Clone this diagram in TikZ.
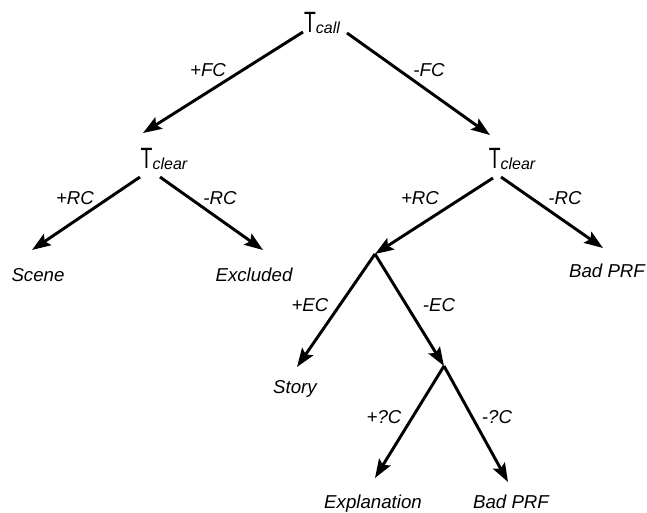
\documentclass[tikz,border=0pt]{standalone}
\usepackage{fontspec}
\setmainfont{Liberation Sans}
\usepackage{graphicx}
\usetikzlibrary{arrows.meta}

\newcommand{\tsub}[1]{{\fontsize{22}{22}\selectfont\scalebox{0.66}[1]{T}}\raisebox{-1pt}{\fontsize{12}{12}\selectfont\itshape #1}}

\begin{document}
\begin{tikzpicture}[x=0.75pt,y=-0.75pt,
	arr/.style={line width=2.2pt,-{Stealth[length=14pt,width=10pt,inset=2.5pt]}},
	lbl/.style={font=\fontsize{14}{16}\selectfont\itshape,inner sep=0pt},
	leaf/.style={lbl,anchor=base},
	tnode/.style={inner sep=0pt,anchor=base}]
	\useasboundingbox (0,0) rectangle (647,512);
	% tests
	\node[tnode] (tcall) at (322,32) {\tsub{call}};
	\node[tnode] (clearL) at (164,168) {\tsub{clear}};
	\node[tnode] (clearR) at (512,168) {\tsub{clear}};
	% outcomes
	\node[leaf] (scene) at (38,281) {Scene};
	\node[leaf] (excl) at (254,281) {Excluded};
	\node[leaf] (badA) at (607,277) {Bad PRF};
	\node[leaf] (story) at (295,393) {Story};
	\node[leaf] (expl) at (373,508) {Explanation};
	\node[leaf] (badB) at (511,508) {Bad PRF};
	\coordinate (j1) at (375,254);
	\coordinate (j2) at (444,366);
	% branch labels
	\foreach \x/\y/\lab/\n in {208/70/+FC/fcP, 429/70/-FC/fcM,
		75/198/+RC/rcPL, 220/198/-RC/rcML, 420/198/+RC/rcPR, 565/198/-RC/rcMR,
		310/305/+EC/ecP, 439/305/-EC/ecM, 384/417/+?C/qcP, 497/417/-?C/qcM}
	\node[lbl] (\n) at (\x,\y) {\lab};
	% branches
	\draw[arr] ([shift={(-19,0)}]tcall.base) -- ([shift={(-21,-35)}]clearL.base);
	\draw[arr] ([shift={(25,1)}]tcall.base) -- ([shift={(-22,-33)}]clearR.base);
	\draw[arr] ([shift={(-24,9)}]clearL.base) -- ([shift={(-6,-31)}]scene.base);
	\draw[arr] ([shift={(-4,9)}]clearL.base) -- ([shift={(9,-31)}]excl.base);
	\draw[arr] ([shift={(-19,10)}]clearR.base) -- (j1);
	\draw[arr] ([shift={(-11,9)}]clearR.base) -- ([shift={(-4,-29)}]badA.base);
	\draw[arr] (j1) -- ([shift={(2,-26)}]story.base);
	\draw[arr] (j1) -- (j2);
	\draw[arr] (j2) -- ([shift={(2,-30)}]expl.base);
	\draw[arr] (j2) -- ([shift={(-3,-26)}]badB.base);
\end{tikzpicture}
\end{document}
